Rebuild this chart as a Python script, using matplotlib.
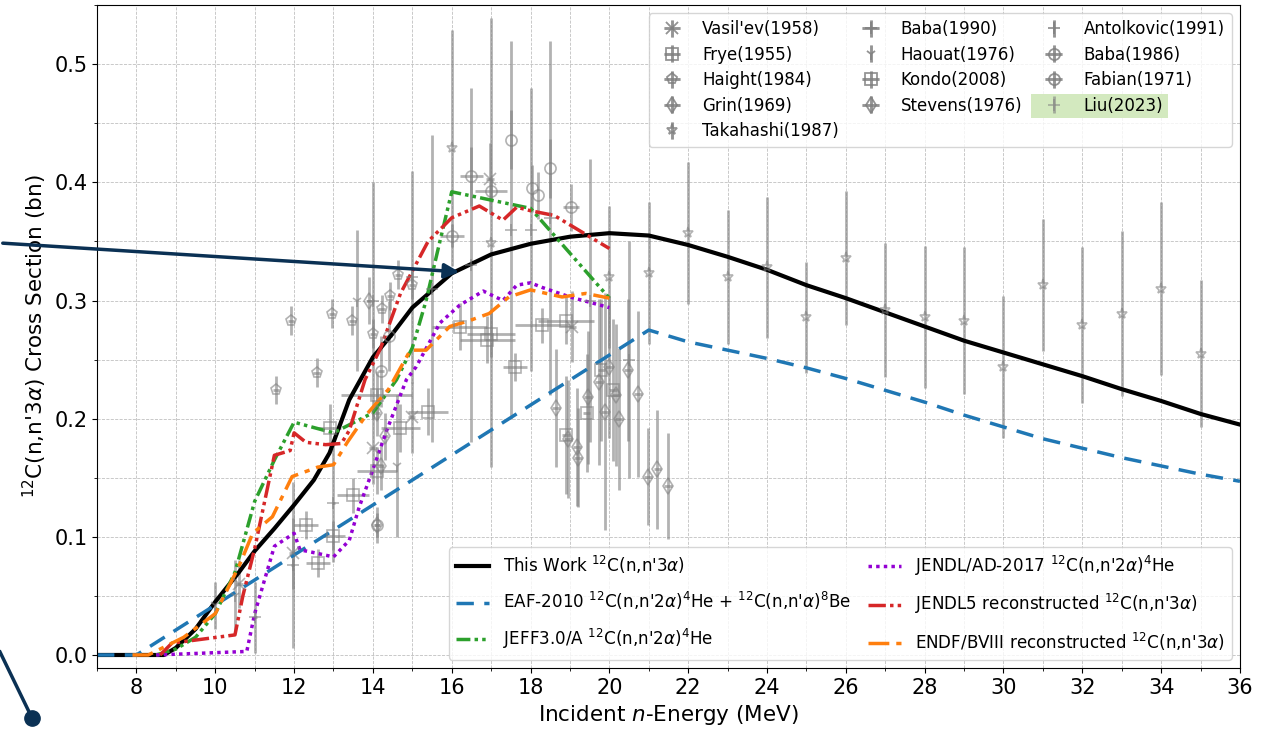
import matplotlib
matplotlib.use("Agg")
import matplotlib.pyplot as plt
from matplotlib.patches import FancyArrowPatch, Rectangle
from matplotlib.lines import Line2D
from matplotlib.ticker import MultipleLocator

# ---------------- evaluated / model curves ----------------
this_work_E = [7, 8.7, 9.0, 9.5, 10.0, 10.6, 11.0, 11.5, 12.0, 12.5, 12.9, 13.4, 14.0, 14.5, 15.0, 16.0, 17.0,
               18.0, 19.0, 20.0, 21.0, 22.0, 23.0, 24.0, 25.0, 26.0, 27.0, 28.0, 29.0, 30.0, 31.0, 32.0,
               33.0, 34.0, 35.0, 36.0]
this_work_xs = [0, 0, 0.006, 0.022, 0.045, 0.07, 0.088, 0.107, 0.127, 0.148, 0.171, 0.216, 0.252, 0.272,
                0.294, 0.323, 0.339, 0.348, 0.354, 0.357, 0.355, 0.347, 0.337, 0.326, 0.313, 0.302,
                0.290, 0.278, 0.266, 0.256, 0.246, 0.236, 0.225, 0.215, 0.204, 0.195]

eaf_E = [7, 8, 21, 22, 23, 24, 25, 26, 27, 28, 29, 30, 31, 32, 33, 34, 35, 36]
eaf_xs = [0, 0, 0.275, 0.265, 0.258, 0.251, 0.243, 0.234, 0.224, 0.214, 0.203, 0.193, 0.183, 0.175,
          0.167, 0.160, 0.153, 0.147]

jeff_E = [8.5, 9.0, 9.5, 10.0, 10.5, 11.0, 11.5, 12.0, 13.0, 14.0, 14.6, 15.0, 15.35, 15.65, 16.0, 18.0, 20.0]
jeff_xs = [0, 0.005, 0.015, 0.035, 0.07, 0.13, 0.165, 0.197, 0.188, 0.205, 0.233, 0.26, 0.30, 0.343,
           0.392, 0.378, 0.302]

jendlad_E = [8.5, 10.8, 11.0, 11.5, 12.0, 12.15, 12.45, 13.0, 13.4, 13.65, 14.0, 14.35, 14.85, 15.1, 15.7,
             16.2, 16.8, 17.3, 17.65, 18.0, 18.3, 19.0, 20.0]
jendlad_xs = [0, 0.003, 0.035, 0.092, 0.103, 0.089, 0.087, 0.083, 0.097, 0.125, 0.157, 0.19, 0.233, 0.244,
              0.281, 0.296, 0.308, 0.300, 0.313, 0.315, 0.311, 0.303, 0.294]

jendl5_E = [8.6, 8.9, 10.5, 10.7, 11.0, 11.5, 11.9, 12.0, 12.3, 12.8, 13.2, 13.4, 13.8, 14.2, 14.7, 15.4, 16.0,
            16.7, 17.0, 17.3, 17.65, 18.0, 18.6, 19.0, 20.0]
jendl5_xs = [0, 0.01, 0.017, 0.05, 0.09, 0.169, 0.173, 0.188, 0.180, 0.178, 0.179, 0.19, 0.233, 0.26, 0.306,
             0.35, 0.37, 0.38, 0.374, 0.368, 0.379, 0.376, 0.372, 0.364, 0.344]

endf_E = [7.9, 8.3, 9.2, 10.0, 10.6, 10.95, 11.45, 11.95, 12.6, 13.0, 13.35, 13.85, 14.4, 14.95, 15.35, 15.95,
          16.45, 16.95, 17.45, 18.0, 18.8, 19.4, 20.0]
endf_xs = [0, 0, 0.015, 0.035, 0.075, 0.103, 0.117, 0.151, 0.159, 0.161, 0.18, 0.204, 0.225, 0.258, 0.258,
           0.278, 0.283, 0.289, 0.303, 0.309, 0.303, 0.306, 0.302]

# ---------------- experimental data ----------------
vasilev_E = [10.6, 11.96, 14.0, 14.98, 16.98, 19.05]
vasilev_xs = [0.060, 0.086, 0.175, 0.201, 0.403, 0.278]
vasilev_err = [0.02, 0.03, 0.03, 0.03, 0.03, 0.03]
vasilev_dE = [0.1, 0.1, 0.1, 0.1, 0.1, 0.1]

frye_E = [12.3, 12.6, 12.9, 13.0, 13.5, 14.1, 14.1, 14.7, 15.4, 16.2, 16.9, 17.0, 17.6, 18.3, 18.9]
frye_xs = [0.110, 0.078, 0.192, 0.101, 0.135, 0.156, 0.220, 0.192, 0.206, 0.278, 0.267, 0.272, 0.244, 0.279, 0.283]
frye_err = [0.012, 0.012, 0.02, 0.012, 0.015, 0.02, 0.02, 0.02, 0.02, 0.02, 0.02, 0.02, 0.012, 0.015, 0.02]
frye_dE = [0.3, 0.3, 0.3, 0.3, 0.4, 0.5, 0.9, 0.5, 0.5, 0.7, 0.7, 0.6, 0.3, 0.7, 0.7]

haight_E = [11.55, 11.93, 12.57, 12.97, 13.48, 14.0, 14.22, 14.43, 14.63, 15.0]
haight_xs = [0.224, 0.283, 0.239, 0.289, 0.283, 0.272, 0.293, 0.304, 0.322, 0.313]
haight_err = [0.012, 0.012, 0.012, 0.012, 0.012, 0.012, 0.012, 0.012, 0.012, 0.012]

grin_E = [13.9, 14.1, 14.2, 14.1, 14.3]
grin_xs = [0.300, 0.205, 0.160, 0.110, 0.185]
grin_err = [0.02, 0.02, 0.02, 0.015, 0.02]

takahashi_E = [16, 17, 20, 21, 22, 23, 24, 25, 26, 27, 28, 29, 30, 31, 32, 33, 34, 35]
takahashi_xs = [0.429, 0.349, 0.320, 0.323, 0.357, 0.320, 0.328, 0.286, 0.336, 0.292, 0.286, 0.283, 0.244,
                0.313, 0.279, 0.289, 0.310, 0.255]
takahashi_err = [0.10, 0.19, 0.06, 0.06, 0.06, 0.057, 0.06, 0.047, 0.057, 0.057, 0.06, 0.062, 0.06, 0.056,
                 0.066, 0.07, 0.073, 0.062]

baba90_E = [11.0, 11.96, 13.0]
baba90_xs = [0.032, 0.076, 0.129]
baba90_err = [0.03, 0.07, 0.05]

haouat_E = [10.0, 10.5, 13.6, 14.6]
haouat_xs = [0.042, 0.05, 0.30, 0.16]
haouat_err = [0.02, 0.03, 0.06, 0.06]

kondo_E = [18.9, 19.42, 19.8, 20.1]
kondo_xs = [0.186, 0.205, 0.241, 0.224]
kondo_err = [0.05, 0.05, 0.06, 0.06]

stevens_E = [18.64, 18.96, 19.17, 19.2, 19.45, 19.73, 19.9, 20.0, 20.16, 20.24, 20.47, 20.72, 20.97, 21.22, 21.48]
stevens_xs = [0.209, 0.183, 0.176, 0.167, 0.218, 0.231, 0.206, 0.244, 0.220, 0.200, 0.241, 0.221, 0.151,
              0.157, 0.143]
stevens_err = [0.05, 0.05, 0.05, 0.042, 0.056, 0.07, 0.1, 0.06, 0.06, 0.06, 0.06, 0.07, 0.041, 0.05, 0.045]

antolkovic_E = [14.0, 15.0, 18.0]
antolkovic_xs = [0.30, 0.32, 0.36]
antolkovic_err = [0.10, 0.09, 0.12]

baba86_E = [16.0, 16.5, 17.0, 17.5, 18.03, 18.2, 18.5, 19.02]
baba86_xs = [0.355, 0.405, 0.393, 0.436, 0.395, 0.389, 0.412, 0.379]
baba86_err = [0.01, 0.025, 0.01, 0.025, 0.02, 0.02, 0.025, 0.02]
baba86_dE = [0.3, 0.3, 0.4, 0.0, 0.0, 0.0, 0.0, 0.2]

fabian_E = [14.2, 14.4, 14.1]
fabian_xs = [0.24, 0.27, 0.11]
fabian_err = [0.03, 0.03, 0.01]

liu_E = [15.5, 16.5, 17.5, 18.5, 19.5, 20.5]
liu_xs = [0.31, 0.33, 0.36, 0.37, 0.30, 0.25]
liu_err = [0.13, 0.15, 0.16, 0.15, 0.12, 0.10]

# ---------------- figure ----------------
fig = plt.figure(figsize=(12.65, 7.33), dpi=100)
ax = fig.add_axes([0.0767, 0.0887, 0.9035, 0.9043])

gcol = 'grey'
eb_kw = dict(color=gcol, ecolor=gcol, alpha=0.6, elinewidth=2, markerfacecolor='none',
             markeredgecolor=gcol, markersize=8, capsize=0, linestyle='none', markeredgewidth=1.2)

exp_handles = []
exp_handles.append(ax.errorbar(vasilev_E, vasilev_xs, yerr=vasilev_err, xerr=vasilev_dE, marker='x', label="Vasil'ev(1958)", **eb_kw))
exp_handles.append(ax.errorbar(frye_E, frye_xs, yerr=frye_err, xerr=frye_dE, marker='s', label="Frye(1955)", **eb_kw))
exp_handles.append(ax.errorbar(haight_E, haight_xs, yerr=haight_err, xerr=[0.08]*len(haight_E), marker='p', label="Haight(1984)", **eb_kw))
exp_handles.append(ax.errorbar(grin_E, grin_xs, yerr=grin_err, xerr=[0.08]*len(grin_E), marker='d', label="Grin(1969)", **eb_kw))
exp_handles.append(ax.errorbar(takahashi_E, takahashi_xs, yerr=takahashi_err, marker='*', label="Takahashi(1987)", **eb_kw))
exp_handles.append(ax.errorbar(baba90_E, baba90_xs, yerr=baba90_err, xerr=[0.05]*len(baba90_E), marker='+', label="Baba(1990)", **eb_kw))
exp_handles.append(ax.errorbar(haouat_E, haouat_xs, yerr=haouat_err, marker='1', label="Haouat(1976)", **eb_kw))
exp_handles.append(ax.errorbar(kondo_E, kondo_xs, yerr=kondo_err, xerr=[0.1]*len(kondo_E), marker='s', label="Kondo(2008)", **eb_kw))
exp_handles.append(ax.errorbar(stevens_E, stevens_xs, yerr=stevens_err, xerr=[0.1]*len(stevens_E), marker='d', label="Stevens(1976)", **eb_kw))
exp_handles.append(ax.errorbar(antolkovic_E, antolkovic_xs, yerr=antolkovic_err, marker='+', label="Antolkovic(1991)", **eb_kw))
exp_handles.append(ax.errorbar(baba86_E, baba86_xs, yerr=baba86_err, xerr=baba86_dE, marker='o', label="Baba(1986)", **eb_kw))
exp_handles.append(ax.errorbar(fabian_E, fabian_xs, yerr=fabian_err, xerr=[0.08]*len(fabian_E), marker='o', label="Fabian(1971)", **eb_kw))
exp_handles.append(ax.errorbar(liu_E, liu_xs, yerr=liu_err, marker='+', label="Liu(2023)", **eb_kw))

l_this, = ax.plot(this_work_E, this_work_xs, color='black', lw=3, label="This Work $^{12}$C(n,n'3$\\alpha$)")
l_eaf, = ax.plot(eaf_E, eaf_xs, color='#1f77b4', lw=2.5, ls=(0, (5, 3)),
                 label="EAF-2010 $^{12}$C(n,n'2$\\alpha$)$^{4}$He + $^{12}$C(n,n'$\\alpha$)$^{8}$Be")
l_jeff, = ax.plot(jeff_E, jeff_xs, color='#2ca02c', lw=2.5, ls=(0, (4, 1.2, 1, 1.2, 1, 1.2)),
                  label="JEFF3.0/A $^{12}$C(n,n'2$\\alpha$)$^{4}$He")
l_jad, = ax.plot(jendlad_E, jendlad_xs, color='#9400d3', lw=2.5, ls=(0, (1, 1.2)),
                 label="JENDL/AD-2017 $^{12}$C(n,n'2$\\alpha$)$^{4}$He")
l_j5, = ax.plot(jendl5_E, jendl5_xs, color='#d62728', lw=2.5, ls=(0, (5, 1.2, 1, 1.2, 1, 1.2)),
                label="JENDL5 reconstructed $^{12}$C(n,n'3$\\alpha$)")
l_endf, = ax.plot(endf_E, endf_xs, color='#ff7f0e', lw=2.5, ls=(0, (6, 2, 1.5, 2)),
                  label="ENDF/BVIII reconstructed $^{12}$C(n,n'3$\\alpha$)")

ax.set_xlim(7, 36)
ax.set_ylim(-0.011, 0.55)
ax.xaxis.set_major_locator(MultipleLocator(2))
ax.xaxis.set_minor_locator(MultipleLocator(1))
ax.yaxis.set_major_locator(MultipleLocator(0.1))
ax.yaxis.set_minor_locator(MultipleLocator(0.05))
ax.grid(True, which='both', ls='--', lw=0.6, color='#b0b0b0', alpha=0.8)
ax.tick_params(labelsize=15)
ax.set_xlabel("Incident $n$-Energy (MeV)", fontsize=15.5)
ax.set_ylabel("$^{12}$C(n,n'3$\\alpha$) Cross Section (bn)", fontsize=15.5)

leg_kw = dict(loc='upper right', ncol=3, fontsize=12, handletextpad=0.8, columnspacing=0.9,
              labelspacing=0.45)
# framed legend (texts hidden), highlight, then unframed legend on top
leg1a = ax.legend(handles=exp_handles, **leg_kw)
for t in leg1a.get_texts():
    t.set_color('none')
leg1a.set_zorder(5)
ax.add_artist(leg1a)

leg2 = ax.legend(handles=[l_this, l_eaf, l_jeff, l_jad, l_j5, l_endf], loc='lower right', ncol=2,
                 fontsize=12.1, labelspacing=0.85, columnspacing=1.0)
ax.add_artist(leg2)

leg1b = ax.legend(handles=exp_handles, frameon=False, **leg_kw)
leg1b.set_zorder(7)

fig.canvas.draw()
r = fig.canvas.get_renderer()
tb = leg1b.get_texts()[-1].get_window_extent(r)
fs_px = 12 * 100 / 72.0
x0 = tb.x0 - (0.8 + 2.0) * fs_px - 6
inv = ax.transAxes.inverted()
(ax0, ay0) = inv.transform((x0, tb.y0 - 3))
(ax1, ay1) = inv.transform((tb.x1 + 5, tb.y1 + 3))
rect = Rectangle((ax0, ay0), ax1 - ax0, ay1 - ay0, transform=ax.transAxes, clip_on=False,
                 facecolor='#d3e9bf', edgecolor='none', zorder=6)
ax.add_patch(rect)

# annotation arrows outside axes
navy = '#0b3154'
arr = FancyArrowPatch((0.0, 0.6685), (0.3652, 0.6289), transform=fig.transFigure,
                      arrowstyle='-|>', mutation_scale=22, lw=2.5, color=navy)
fig.add_artist(arr)
fig.add_artist(Line2D([0.0, 0.0253], [0.1105, 0.0205], transform=fig.transFigure, color=navy, lw=2.5))
fig.add_artist(Line2D([0.0253], [0.0205], transform=fig.transFigure, color=navy, marker='o', markersize=11))

fig.savefig('out.png', dpi=100)
